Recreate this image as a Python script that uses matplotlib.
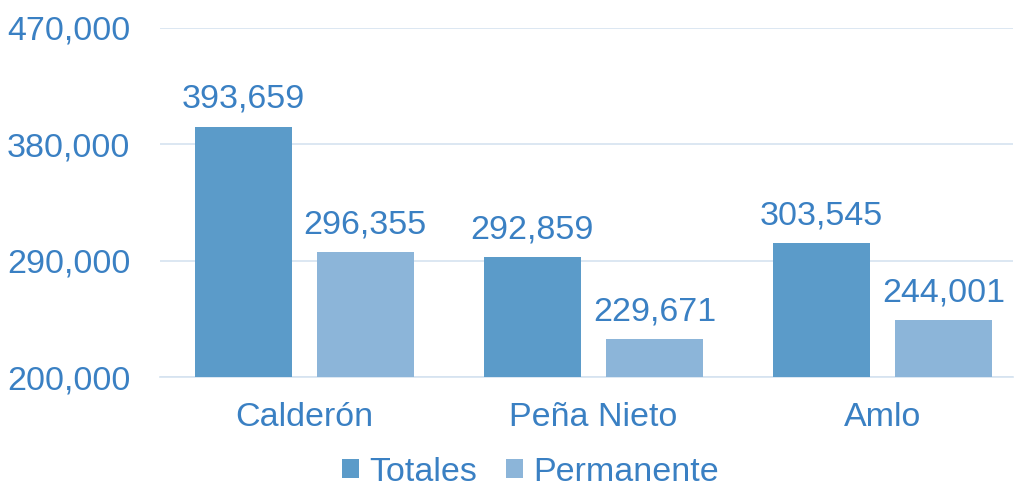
import matplotlib.pyplot as plt
import numpy as np

categories = ["Calderón", "Peña Nieto", "Amlo"]
totales = [393659, 292859, 303545]
permanente = [296355, 229671, 244001]
yticks = [200000, 290000, 380000, 470000]

text_color = "#3a80c3"
c_tot = "#5b9bc9"
c_perm = "#8cb5d9"

plt.rcParams["font.family"] = ["Liberation Sans", "DejaVu Sans"]

fig = plt.figure(figsize=(10.16, 4.9), dpi=100)
ax = fig.add_axes([0.157, 0.2306, 0.84, 0.7124])

x = np.arange(len(categories))
w = 0.335
off = 0.211
ax.bar(x - off, [v - 200000 for v in totales], w, bottom=200000, color=c_tot, label="Totales", zorder=3)
ax.bar(x + off, [v - 200000 for v in permanente], w, bottom=200000, color=c_perm, label="Permanente", zorder=3)

fs = 24.5
for xs, vals in [(x - off, totales), (x + off, permanente)]:
    for xi, v in zip(xs, vals):
        ax.text(xi, v + 9000, f"{v:,}", ha="center", va="bottom", fontsize=fs, color=text_color)

ax.set_ylim(200000, 470000)
ax.set_xlim(-0.5, 2.45)
ax.set_yticks(yticks)
ax.set_yticklabels([f"{v:,}" for v in yticks])
ax.set_xticks(x)
ax.set_xticklabels(categories)
ax.tick_params(axis="both", length=0, labelsize=fs, colors=text_color)
ax.tick_params(axis="y", pad=21)
ax.tick_params(axis="x", pad=18)
ax.grid(axis="y", color="#d5e3f0", linewidth=1.2, zorder=0)
for s in ["top", "right", "left"]:
    ax.spines[s].set_visible(False)
ax.spines["bottom"].set_color("#d5e3f0")
ax.spines["bottom"].set_linewidth(1.2)

leg = fig.legend(loc="lower center", bbox_to_anchor=(0.522, -0.03), ncol=2, frameon=False, borderpad=0.0,
                 fontsize=fs, handlelength=0.5, handleheight=0.5, handletextpad=0.3, columnspacing=0.85)
for t in leg.get_texts():
    t.set_color(text_color)

fig.savefig("out.png", dpi=100)
